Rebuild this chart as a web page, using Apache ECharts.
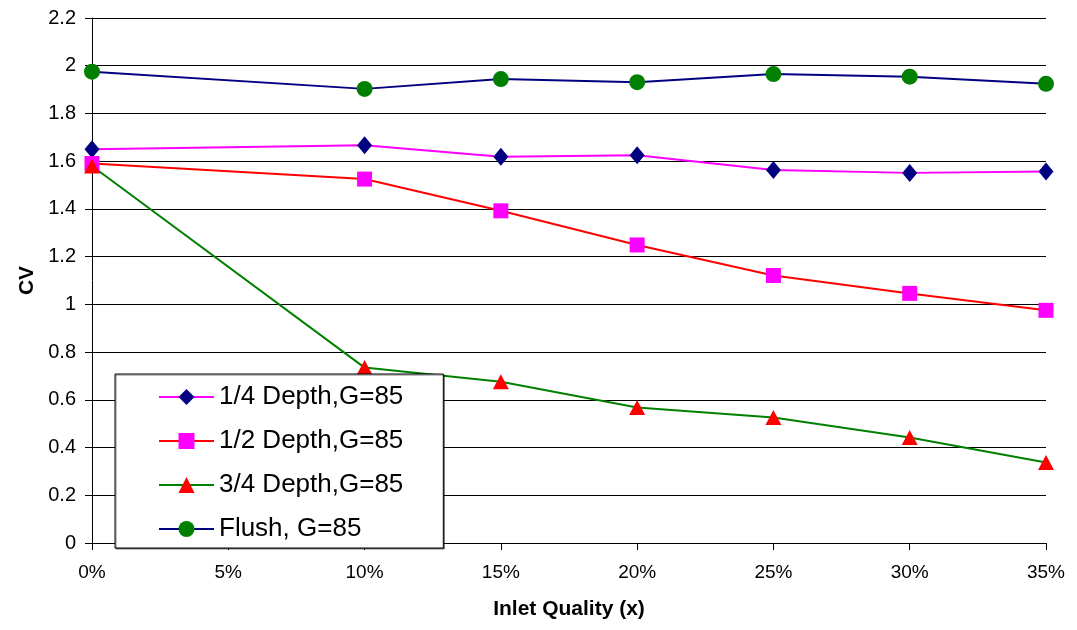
<!DOCTYPE html>
<html>
<head>
<meta charset="utf-8">
<script src="https://cdn.jsdelivr.net/npm/echarts@6/dist/echarts.min.js"></script>
<style>html,body{margin:0;padding:0;background:#fff}#c{width:1077px;height:630px}</style>
</head>
<body>
<div id="c"></div>
<script>
const xValues = [0, 10, 15, 20, 25, 30, 35];
const quarterDepth = [1.650, 1.667, 1.619, 1.625, 1.563, 1.551, 1.557];
const halfDepth = [1.590, 1.525, 1.392, 1.249, 1.121, 1.046, 0.975];
const threeQuarterDepth = [1.580, 0.735, 0.676, 0.568, 0.526, 0.442, 0.337];
const flush = [1.975, 1.903, 1.944, 1.931, 1.965, 1.954, 1.924];
const seriesNames = ['1/4 Depth,G=85', '1/2 Depth,G=85', '3/4 Depth,G=85', 'Flush, G=85'];

function pairs(ys) { return xValues.map((x, i) => [x, ys[i]]); }

const font = 'Liberation Sans, Arial, sans-serif';
const chart = echarts.init(document.getElementById('c'), null, {renderer: 'canvas'});
chart.setOption({
  animation: false,
  backgroundColor: '#fff',
  grid: {left: 92, right: 31, top: 18, bottom: 87, containLabel: false},
  xAxis: {
    type: 'value', min: 0, max: 35, interval: 5,
    name: 'Inlet Quality (x)', nameLocation: 'middle', nameGap: 56,
    nameTextStyle: {fontFamily: font, fontSize: 21, fontWeight: 'bold', color: '#000'},
    axisLine: {show: true, onZero: false, lineStyle: {color: '#000', width: 1}},
    axisTick: {show: true, length: 7, lineStyle: {color: '#000'}},
    axisLabel: {formatter: v => v + '%', fontFamily: font, fontSize: 19, color: '#000', margin: 20},
    splitLine: {show: false}
  },
  yAxis: {
    type: 'value', min: 0, max: 2.2, interval: 0.2,
    name: 'CV', nameLocation: 'middle', nameGap: 54, nameRotate: 90,
    nameTextStyle: {fontFamily: font, fontSize: 21, fontWeight: 'bold', color: '#000'},
    axisLine: {show: true, lineStyle: {color: '#000', width: 1}},
    axisTick: {show: true, length: 7, lineStyle: {color: '#000'}},
    axisLabel: {fontFamily: font, fontSize: 20, color: '#000', margin: 16,
      formatter: v => String(Math.round(v * 10) / 10)},
    splitLine: {show: true, lineStyle: {color: '#000', width: 1}}
  },
  legend: {
    orient: 'vertical', left: 115, top: 374,
    data: seriesNames,
    itemWidth: 55, itemHeight: 20, itemGap: 18,
    padding: [10, 40, 6, 43],
    backgroundColor: '#fff', borderColor: '#000', borderWidth: 1,
    shadowColor: 'rgba(0,0,0,0.5)', shadowOffsetX: 1, shadowOffsetY: 1, shadowBlur: 0,
    textStyle: {fontFamily: font, fontSize: 26, color: '#000'}
  },
  series: [
    {name: seriesNames[0], type: 'line', data: pairs(quarterDepth), symbol: 'diamond', symbolSize: [15, 18],
      lineStyle: {color: '#FF00FF', width: 2}, itemStyle: {color: '#000080'}, z: 3},
    {name: seriesNames[1], type: 'line', data: pairs(halfDepth), symbol: 'rect', symbolSize: 15,
      lineStyle: {color: '#FF0000', width: 2}, itemStyle: {color: '#FF00FF'}, z: 3},
    {name: seriesNames[2], type: 'line', data: pairs(threeQuarterDepth), symbol: 'triangle', symbolSize: [16, 15],
      lineStyle: {color: '#008000', width: 2}, itemStyle: {color: '#FF0000'}, z: 3},
    {name: seriesNames[3], type: 'line', data: pairs(flush), symbol: 'circle', symbolSize: 16,
      lineStyle: {color: '#000080', width: 2}, itemStyle: {color: '#008000'}, z: 3}
  ]
});
</script>
</body>
</html>
